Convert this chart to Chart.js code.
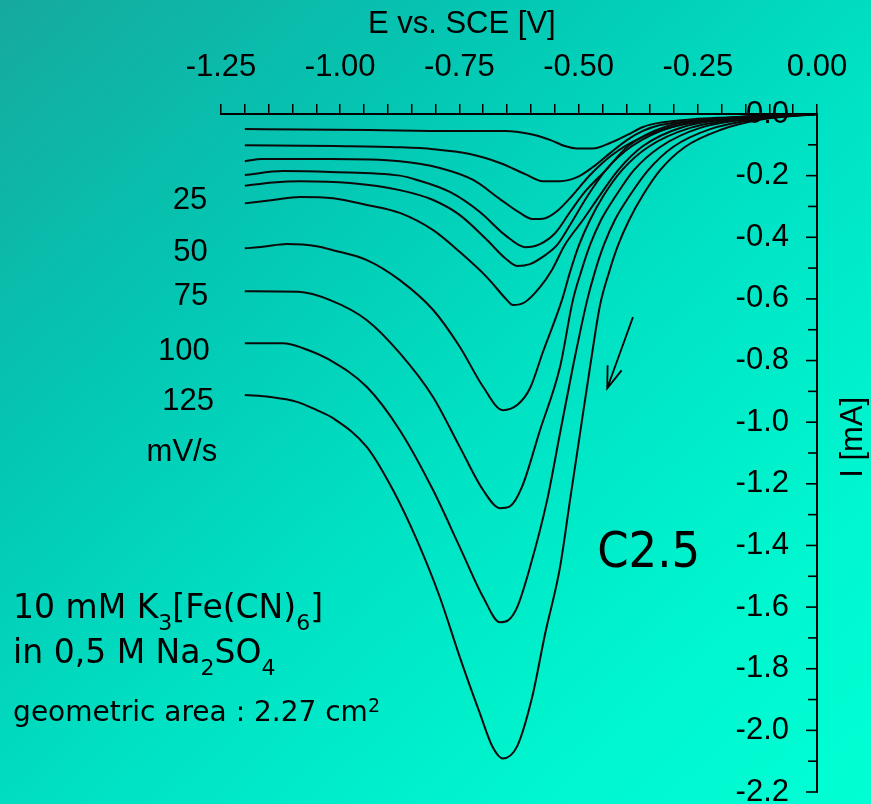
<!DOCTYPE html>
<html>
<head>
<meta charset="utf-8">
<script src="https://cdn.jsdelivr.net/npm/chart.js@4.4.1/dist/chart.umd.min.js"></script>
<style>
    html, body { margin: 0; padding: 0; }
    body {
        width: 871px; height: 804px; overflow: hidden;
        background: linear-gradient(to bottom right, #16a99f 0%, #04c6b2 28%, #00e2c4 55%, #00f6cf 80%, #00ffd4 100%);
    }
    canvas { display: block; }
</style>
</head>
<body>
<canvas id="graficoCV" width="871" height="804"></canvas>
<script>
// E vs. SCE [V] and I [mA] for each sweep (lowest current first)
var e1 = [-1.200, -1.084, -0.937, -0.770, -0.654, -0.602, -0.560, -0.529, -0.503, -0.470, -0.434, -0.398, -0.365, -0.329, -0.260, -0.189, -0.120, 0];
var i1 = [-0.049, -0.050, -0.052, -0.055, -0.055, -0.065, -0.084, -0.104, -0.112, -0.112, -0.094, -0.068, -0.042, -0.028, -0.017, -0.011, -0.006, 0];

var e2 = [-1.200, -1.011, -0.875, -0.805, -0.728, -0.665, -0.612, -0.575, -0.539, -0.503, -0.470, -0.434, -0.398, -0.365, -0.329, -0.260, -0.189, -0.120, 0];
var i2 = [-0.101, -0.104, -0.108, -0.114, -0.130, -0.159, -0.195, -0.218, -0.218, -0.205, -0.172, -0.127, -0.084, -0.055, -0.036, -0.022, -0.014, -0.009, 0];

var e3 = [-1.200, -1.164, -1.021, -0.875, -0.791, -0.721, -0.665, -0.623, -0.596, -0.570, -0.545, -0.514, -0.476, -0.430, -0.371, -0.287, -0.161, 0];
var i3 = [-0.153, -0.146, -0.146, -0.153, -0.175, -0.214, -0.276, -0.321, -0.341, -0.338, -0.315, -0.266, -0.198, -0.133, -0.078, -0.036, -0.010, 0];

var e4 = [-1.200, -1.120, -1.021, -0.875, -0.839, -0.770, -0.707, -0.654, -0.612, -0.581, -0.549, -0.518, -0.487, -0.443, -0.396, -0.319, -0.161, 0];
var i4 = [-0.198, -0.185, -0.188, -0.200, -0.214, -0.253, -0.318, -0.393, -0.432, -0.422, -0.386, -0.318, -0.253, -0.182, -0.104, -0.042, -0.010, 0];

var e5 = [-1.200, -1.141, -1.084, -0.979, -0.875, -0.805, -0.749, -0.692, -0.654, -0.629, -0.602, -0.570, -0.545, -0.518, -0.480, -0.443, -0.388, -0.304, -0.151, 0];
var i5 = [-0.233, -0.222, -0.218, -0.224, -0.247, -0.279, -0.328, -0.409, -0.468, -0.493, -0.487, -0.458, -0.425, -0.360, -0.263, -0.182, -0.104, -0.042, -0.010, 0];

// 25 mV/s
var e6 = [-1.200, -1.141, -1.084, -1.015, -0.944, -0.875, -0.805, -0.749, -0.692, -0.650, -0.638, -0.612, -0.581, -0.556, -0.529, -0.491, -0.455, -0.417, -0.365, -0.281, -0.141, 0];
var i6 = [-0.290, -0.279, -0.269, -0.273, -0.295, -0.321, -0.377, -0.448, -0.530, -0.604, -0.620, -0.610, -0.562, -0.506, -0.425, -0.344, -0.263, -0.182, -0.104, -0.042, -0.010, 0];

// 50 mV/s
var e7 = [-1.200, -1.162, -1.112, -1.049, -1.015, -0.944, -0.875, -0.805, -0.749, -0.700, -0.659, -0.627, -0.602, -0.575, -0.535, -0.518, -0.499, -0.476, -0.447, -0.409, -0.354, -0.266, -0.120, 0];
var i7 = [-0.436, -0.431, -0.422, -0.429, -0.442, -0.474, -0.539, -0.636, -0.756, -0.886, -0.961, -0.942, -0.890, -0.773, -0.604, -0.513, -0.425, -0.344, -0.263, -0.182, -0.107, -0.045, -0.010, 0];

// 75 mV/s
var e8 = [-1.200, -1.088, -1.021, -0.944, -0.875, -0.805, -0.749, -0.700, -0.665, -0.644, -0.619, -0.581, -0.539, -0.512, -0.495, -0.476, -0.453, -0.421, -0.384, -0.329, -0.245, -0.120, 0];
var i8 = [-0.575, -0.577, -0.604, -0.669, -0.776, -0.919, -1.081, -1.221, -1.279, -1.273, -1.211, -1.026, -0.821, -0.604, -0.513, -0.425, -0.344, -0.263, -0.182, -0.107, -0.045, -0.013, 0];

// 100 mV/s
var e9 = [-1.200, -1.120, -1.078, -1.021, -0.944, -0.875, -0.805, -0.749, -0.700, -0.665, -0.648, -0.629, -0.602, -0.566, -0.539, -0.512, -0.482, -0.466, -0.447, -0.424, -0.392, -0.354, -0.302, -0.224, -0.120, 0];
var i9 = [-0.744, -0.744, -0.760, -0.799, -0.886, -1.026, -1.221, -1.406, -1.568, -1.649, -1.643, -1.601, -1.471, -1.253, -1.036, -0.821, -0.604, -0.513, -0.425, -0.344, -0.263, -0.182, -0.107, -0.049, -0.016, 0];

// 125 mV/s
var e10 = [-1.200, -1.147, -1.091, -1.049, -1.015, -0.944, -0.889, -0.839, -0.791, -0.749, -0.707, -0.680, -0.659, -0.629, -0.598, -0.570, -0.539, -0.518, -0.497, -0.476, -0.455, -0.436, -0.417, -0.394, -0.365, -0.329, -0.277, -0.203, -0.120, 0];
var i10 = [-0.912, -0.918, -0.934, -0.961, -0.987, -1.081, -1.221, -1.383, -1.568, -1.763, -1.945, -2.055, -2.091, -2.052, -1.896, -1.685, -1.471, -1.253, -1.036, -0.821, -0.620, -0.513, -0.425, -0.344, -0.263, -0.182, -0.107, -0.052, -0.019, 0];

var curvasE = [e1, e2, e3, e4, e5, e6, e7, e8, e9, e10];
var curvasI = [i1, i2, i3, i4, i5, i6, i7, i8, i9, i10];

var ticksX = [-1.25, -1.00, -0.75, -0.50, -0.25, 0.00];
var ticksY = [0.0, -0.2, -0.4, -0.6, -0.8, -1.0, -1.2, -1.4, -1.6, -1.8, -2.0, -2.2];
var velocidades = ['25', '50', '75', '100', '125'];

var fonteEixo = '"Liberation Sans", Arial, sans-serif';
var fonteTexto = '"DejaVu Sans", Verdana, sans-serif';

function ehMarca(lista, v) {
    return lista.some(function (t) { return Math.abs(t - v) < 1e-6; });
}

// text with sub/superscripts: [texto, tipo]
function textoRico(ctx, partes, x, y, tam, tamPeq) {
    partes.forEach(function (p) {
        var dy = 0, fs = tam;
        if (p[1] === 'sub') { fs = tamPeq; dy = 12; }
        if (p[1] === 'sup') { fs = tamPeq; dy = -9; }
        ctx.font = fs + 'px ' + fonteTexto;
        ctx.fillText(p[0], x, y + dy);
        x += ctx.measureText(p[0]).width;
    });
}

var anotacoes = {
    id: 'anotacoes',
    afterDraw: function (chart) {
        var ctx = chart.ctx, sx = chart.scales.x, sy = chart.scales.y;
        function px(e) { return sx.getPixelForValue(e); }
        function py(i) { return sy.getPixelForValue(i); }

        ctx.save();
        ctx.strokeStyle = '#000';
        ctx.fillStyle = '#000';

        // ticks of the current axis point inwards
        ctx.lineWidth = 1.6;
        sy.ticks.forEach(function (t) {
            var y = py(t.value);
            var len = ehMarca(ticksY, t.value) ? 11 : 9;
            ctx.beginPath();
            ctx.moveTo(sy.left - len, y);
            ctx.lineTo(sy.left, y);
            ctx.stroke();
        });

        // axis titles
        ctx.font = '31px ' + fonteEixo;
        ctx.textAlign = 'center';
        ctx.textBaseline = 'middle';
        ctx.fillText('E vs. SCE [V]', px(-0.745), py(0.292));
        ctx.save();
        ctx.translate(px(0.0755), py(-1.049));
        ctx.rotate(-Math.PI / 2);
        ctx.fillText('I [mA]', 0, 0);
        ctx.restore();

        // scan rates
        var posVel = [[-1.315, -0.282], [-1.314, -0.450], [-1.313, -0.591], [-1.328, -0.769], [-1.319, -0.932]];
        ctx.font = '31px ' + fonteEixo;
        velocidades.forEach(function (v, k) {
            ctx.fillText(v, px(posVel[k][0]), py(posVel[k][1]));
        });
        ctx.fillText('mV/s', px(-1.332), py(-1.097));

        // sample name
        ctx.textAlign = 'left';
        ctx.textBaseline = 'alphabetic';
        ctx.font = '50px "DejaVu Sans Condensed", "Noto Sans", sans-serif';
        ctx.fillText('C2.5', px(-0.461), py(-1.471));

        // solution
        var x0 = px(-1.686);
        textoRico(ctx, [['10 mM K', ''], ['3', 'sub'], ['[Fe(CN)', ''], ['6', 'sub'], [']', '']], x0, py(-1.636), 33, 22);
        textoRico(ctx, [['in 0,5 M Na', ''], ['2', 'sub'], ['SO', ''], ['4', 'sub']], x0, py(-1.782), 33, 22);
        textoRico(ctx, [['geometric area : 2.27 cm', ''], ['2', 'sup']], x0, py(-1.968), 28, 19);

        // scan direction arrow
        var ax = px(-0.386), ay = py(-0.659), bx = px(-0.440), by = py(-0.890);
        var ang = Math.atan2(ay - by, ax - bx);
        ctx.lineWidth = 1.8;
        ctx.beginPath();
        ctx.moveTo(ax, ay);
        ctx.lineTo(bx, by);
        ctx.moveTo(bx + 23 * Math.cos(ang + 0.33), by + 23 * Math.sin(ang + 0.33));
        ctx.lineTo(bx, by);
        ctx.lineTo(bx + 23 * Math.cos(ang - 0.33), by + 23 * Math.sin(ang - 0.33));
        ctx.stroke();

        ctx.restore();
    }
};

var datasets = curvasE.map(function (es, k) {
    return {
        data: es.map(function (e, j) { return { x: e, y: curvasI[k][j] }; }),
        showLine: true,
        borderColor: '#0a0a0a',
        borderWidth: 2,
        pointRadius: 0,
        cubicInterpolationMode: 'monotone',
        fill: false
    };
});

var ctx = document.getElementById('graficoCV').getContext('2d');
var grafico = new Chart(ctx, {
    type: 'scatter',
    data: { datasets: datasets },
    options: {
        responsive: false,
        animation: false,
        layout: { padding: { left: 221, right: 0, top: 0, bottom: 12 } },
        plugins: {
            legend: { display: false },
            tooltip: { enabled: false }
        },
        scales: {
            x: {
                type: 'linear',
                position: 'top',
                min: -1.25,
                max: 0,
                afterFit: function (s) { s.height = 114; },
                grid: { drawOnChartArea: false, drawTicks: true, tickLength: 10, color: '#000', lineWidth: 1.5 },
                border: { display: true, color: '#000', width: 2 },
                ticks: {
                    stepSize: 0.05,
                    autoSkip: false,
                    maxRotation: 0,
                    padding: 18,
                    color: '#000',
                    font: { family: fonteEixo, size: 31 },
                    callback: function (v) { return ehMarca(ticksX, v) ? v.toFixed(2) : ''; }
                }
            },
            y: {
                type: 'linear',
                position: 'right',
                min: -2.2,
                max: 0,
                afterFit: function (s) { s.width = 54; },
                grid: { drawOnChartArea: false, drawTicks: false },
                border: { display: true, color: '#000', width: 2 },
                ticks: {
                    stepSize: 0.1,
                    autoSkip: false,
                    mirror: true,
                    padding: -28,
                    color: '#000',
                    font: { family: fonteEixo, size: 31 },
                    callback: function (v) { return ehMarca(ticksY, v) ? v.toFixed(1) : ''; }
                }
            }
        }
    },
    plugins: [anotacoes]
});
</script>
</body>
</html>
